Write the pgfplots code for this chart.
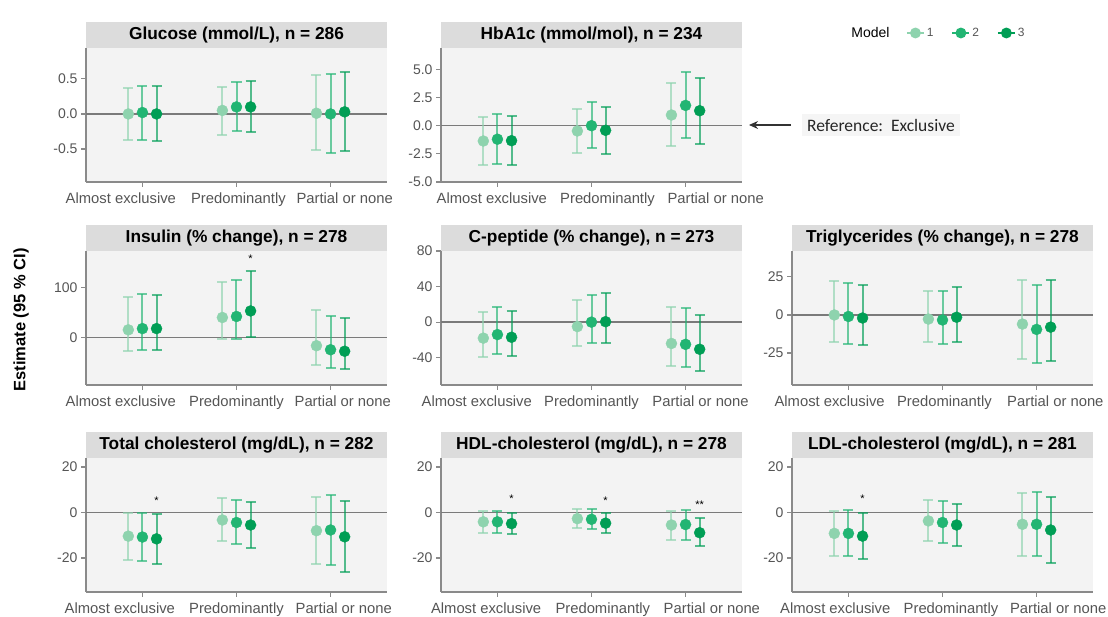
\documentclass[border=0pt]{standalone}
\usepackage{fontspec}
\setmainfont{Liberation Sans}
\newfontfamily\carlito{Carlito}
\usepackage{pgfplots}
\usepackage{pgfplotstable}
\pgfplotsset{compat=1.18}
\usetikzlibrary{arrows.meta}

\definecolor{c1}{HTML}{8ED3AE}
\definecolor{c2}{HTML}{22B573}
\definecolor{c3}{HTML}{009E55}
\definecolor{bgc}{HTML}{F3F3F3}
\definecolor{stripc}{HTML}{DCDCDC}
\definecolor{axc}{HTML}{8A8A8A}
\definecolor{zlc}{HTML}{7A7A7A}
\definecolor{tkc}{HTML}{555555}

% c = category, e/l/h = estimate, lower, upper for models 1-3
\pgfplotstableread{
c e1 l1 h1 e2 l2 h2 e3 l3 h3
1 0.00 -0.37 0.37 0.02 -0.37 0.40 0.00 -0.38 0.40
2 0.05 -0.30 0.38 0.10 -0.25 0.46 0.10 -0.26 0.47
3 0.01 -0.51 0.55 0.00 -0.55 0.57 0.03 -0.53 0.60
}\tglu
\pgfplotstableread{
c e1 l1 h1 e2 l2 h2 e3 l3 h3
1 -1.36 -3.50 0.80 -1.20 -3.40 1.00 -1.33 -3.50 0.85
2 -0.47 -2.43 1.50 0.00 -1.95 2.10 -0.41 -2.50 1.65
3 0.95 -1.83 3.80 1.80 -1.10 4.76 1.33 -1.60 4.26
}\thba
\pgfplotstableread{
c e1 l1 h1 e2 l2 h2 e3 l3 h3
1 15.5 -26 80 18 -24 86 18 -24 85
2 40 -3 110 42 -3 115 53 1 132
3 -16 -55 55 -24 -61 43 -27 -62 39
}\tins
\pgfplotstableread{
c e1 l1 h1 e2 l2 h2 e3 l3 h3
1 -18 -39 11 -14 -36 17 -17 -38 13
2 -5 -27 25 0 -24 31 0.5 -24 33
3 -24 -49 17 -25 -51 16 -30.5 -54.5 8
}\tcpe
\pgfplotstableread{
c e1 l1 h1 e2 l2 h2 e3 l3 h3
1 0 -18 22 -1 -19 21 -2 -20 20
2 -2.7 -18 16 -3.3 -19 16 -1.5 -18 18.5
3 -6 -29 23 -9.5 -31.5 20 -8 -30.5 23
}\ttri
\pgfplotstableread{
c e1 l1 h1 e2 l2 h2 e3 l3 h3
1 -10.4 -21 -0.3 -10.8 -21.5 -0.3 -11.6 -22.5 -0.5
2 -3.3 -12.6 6.2 -4.4 -14 5.6 -5.5 -15.5 4.7
3 -8 -22.5 6.8 -7.7 -23 7.7 -10.7 -26.2 5.2
}\ttc
\pgfplotstableread{
c e1 l1 h1 e2 l2 h2 e3 l3 h3
1 -4.1 -9.2 0.7 -4.1 -9.2 0.7 -4.9 -9.5 0
2 -2.7 -6.7 1.5 -3 -7.4 1.5 -4.7 -9.2 -0.3
3 -5.5 -11.9 0.7 -5.3 -11.9 1.2 -8.9 -14.8 -2.2
}\thdl
\pgfplotstableread{
c e1 l1 h1 e2 l2 h2 e3 l3 h3
1 -9.2 -19 0.7 -9.2 -19 1.0 -10.4 -20.3 -0.3
2 -3.7 -12.6 5.5 -4.4 -13.3 5.2 -5.5 -14.8 3.7
3 -5.2 -19 8.6 -5.2 -19 9.2 -7.7 -22.2 7
}\tldl

% label shifted sideways by #1 bp, box width unchanged
\newcommand{\sh}[2]{\hspace*{#1bp}#2\hspace*{-#1bp}}

\pgfplotsset{
  panel/.style={
    scale only axis, width=301bp, height=134bp, anchor=south west,
    xmin=0.4, xmax=3.6, xtick={1,2,3},
    axis x line*=bottom, axis y line*=left,
    axis line style={-, draw=axc, line width=1.5bp},
    xtick pos=bottom, ytick pos=left,
    tick align=outside, xtick align=outside, major tick length=5bp,
    tick style={draw=axc, line width=1.2bp},
    xtick style={draw=axc, line width=1.2bp},
    axis background/.style={fill=bgc},
    ticklabel style={text=tkc, font=\fontsize{14bp}{16bp}\selectfont},
    xticklabel style={font=\fontsize{14.8bp}{16bp}\selectfont, yshift=-2bp},
    /pgf/number format/assume math mode=true,
    every axis title/.style={at={(0.5,1)}, anchor=south, fill=stripc,
      minimum width=301bp, minimum height=26bp, inner sep=0pt,
      font=\bfseries\fontsize{17.3bp}{19bp}\selectfont},
  },
  % category labels sit a little off the ticks in the reference
  labs/.style n args={3}{xticklabels={\sh{#1}{Almost exclusive},
    \sh{#2}{Predominantly}, \sh{#3}{Partial or none}}},
  mod/.style={only marks, mark=*, mark size=5.5bp, color=#1, forget plot,
    error bars/.cd, y dir=both, y explicit,
    error bar style={line width=2bp, color=#1, opacity=0.65},
    error mark options={rotate=90, line width=2bp, mark size=5bp, color=#1, opacity=0.65}},
  zl/.style={draw=zlc, line width=1.5bp, forget plot},
  dec1/.style={/pgf/number format/.cd, fixed, fixed zerofill, precision=1},
}
\tikzset{sig/.style={font=\fontsize{11bp}{11bp}\selectfont, inner sep=0pt}}

\newcommand{\threemodels}[1]{%
  \addplot[zl] coordinates {(0.4,0) (3.6,0)};
  \addplot[mod=c1] table[x expr=\thisrow{c}-0.15, y=e1,
    y error plus expr=\thisrow{h1}-\thisrow{e1},
    y error minus expr=\thisrow{e1}-\thisrow{l1}] {#1};
  \addplot[mod=c2] table[x=c, y=e2,
    y error plus expr=\thisrow{h2}-\thisrow{e2},
    y error minus expr=\thisrow{e2}-\thisrow{l2}] {#1};
  \addplot[mod=c3] table[x expr=\thisrow{c}+0.15, y=e3,
    y error plus expr=\thisrow{h3}-\thisrow{e3},
    y error minus expr=\thisrow{e3}-\thisrow{l3}] {#1};
}

\begin{document}
\begin{tikzpicture}
\path[use as bounding box] (0,0) rectangle (1108bp,617bp);

\begin{axis}[panel, labs={-21.6}{1.9}{14.1}, at={(86bp,435bp)},
  title={Glucose (mmol/L), n = 286},
  ymin=-0.97, ymax=0.94, ytick={-0.5,0,0.5}, yticklabel style={dec1}]
\threemodels{\tglu}
\end{axis}

\begin{axis}[panel, labs={-5.6}{16}{30.1}, at={(441bp,435bp)},
  title={HbA1c (mmol/mol), n = 234},
  ymin=-5, ymax=6.9, ytick={-5,-2.5,0,2.5,5}, yticklabel style={dec1},
  legend style={at={(1.745,1.112)}, anchor=center, draw=none, fill=none,
    font=\fontsize{12bp}{14bp}\selectfont, text=tkc},
  legend columns=3]
\threemodels{\thba}
\addlegendimage{color=c1, line width=1.8bp, mark=*, mark size=4.5bp}
\addlegendentry{1\hspace*{16bp}}
\addlegendimage{color=c2, line width=1.8bp, mark=*, mark size=4.5bp}
\addlegendentry{2\hspace*{16bp}}
\addlegendimage{color=c3, line width=1.8bp, mark=*, mark size=4.5bp}
\addlegendentry{3}
\end{axis}

\begin{axis}[panel, labs={-21.6}{0}{12.2}, at={(86bp,232bp)},
  title={Insulin (\% change), n = 278},
  ymin=-94, ymax=172, ytick={0,100}]
\threemodels{\tins}
\node[sig] at (axis cs:2.15,157) {*};
\end{axis}

\begin{axis}[panel, labs={-20.7}{0}{15}, at={(441bp,232bp)},
  title={C-peptide (\% change), n = 273},
  ymin=-70.7, ymax=80, ytick={-40,0,40,80}]
\threemodels{\tcpe}
\end{axis}

\begin{axis}[panel, labs={-18.8}{1.9}{18.8}, at={(792bp,232bp)},
  title={Triglycerides (\% change), n = 278},
  ymin=-46, ymax=42, ytick={-25,0,25}]
\threemodels{\ttri}
\end{axis}

\begin{axis}[panel, labs={-22.6}{0}{13.2}, at={(86bp,25bp)},
  title={Total cholesterol (mg/dL), n = 282},
  ymin=-35, ymax=24, ytick={-20,0,20}]
\threemodels{\ttc}
\node[sig] at (axis cs:1.15,5.2) {*};
\end{axis}

\begin{axis}[panel, labs={-11.3}{11.3}{26.3}, at={(441bp,25bp)},
  title={HDL-cholesterol (mg/dL), n = 278},
  ymin=-35, ymax=24, ytick={-20,0,20}]
\threemodels{\thdl}
\node[sig] at (axis cs:1.15,5.9) {*};
\node[sig] at (axis cs:2.15,5.2) {*};
\node[sig] at (axis cs:3.15,3.3) {**};
\end{axis}

\begin{axis}[panel, labs={-13.2}{8.5}{21.6}, at={(792bp,25bp)},
  title={LDL-cholesterol (mg/dL), n = 281},
  ymin=-35, ymax=24, ytick={-20,0,20}]
\threemodels{\tldl}
\node[sig] at (axis cs:1.15,5.9) {*};
\end{axis}

% annotations
\node[font=\bfseries\fontsize{16.5bp}{18bp}\selectfont, rotate=90]
  at (21bp,297bp) {Estimate (95 \% CI)};
\node[font=\fontsize{14bp}{16bp}\selectfont, anchor=east] at (893bp,584bp) {Model};
\draw[-{Stealth[length=9bp,width=8bp]}, line width=1.2bp, draw=black!80]
  (791bp,492bp) -- (749bp,492bp);
\node[anchor=west, fill=black!4, inner sep=5bp,
  font=\carlito\fontsize{17.5bp}{19bp}\selectfont, text=black!85]
  at (802bp,492bp) {Reference:\ \ Exclusive};
\end{tikzpicture}
\end{document}
